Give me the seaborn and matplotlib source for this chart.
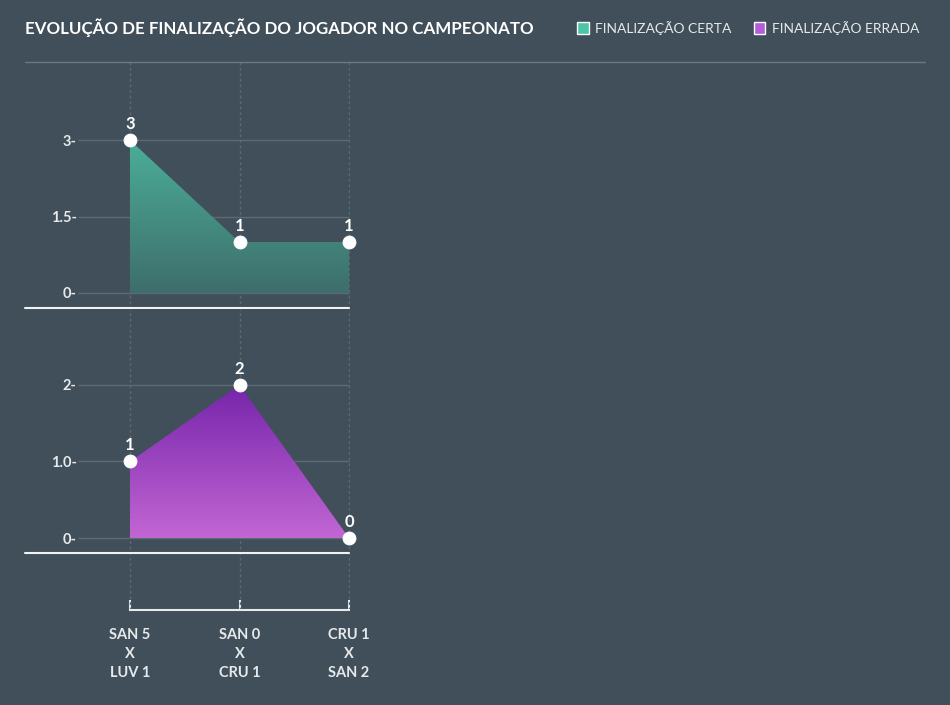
import numpy as np
import pandas as pd
import matplotlib.pyplot as plt
from matplotlib.lines import Line2D
from matplotlib.patches import Patch
from matplotlib.colors import LinearSegmentedColormap
import seaborn as sns

# ~ data
jogos = ["SAN 5\nX\nLUV 1", "SAN 0\nX\nCRU 1", "CRU 1\nX\nSAN 2"]
certa = [3, 1, 1]
errada = [1, 2, 0]
ticks_certa = [0, 1.5, 3]
ticks_errada = [0, 1, 2]
labels_certa = ["0-", "1.5-", "3-"]
labels_errada = ["0-", "1.0-", "2-"]

bg = "#404f59"
grid_col = "#5b6a73"
txt_col = "#e6eaec"

sns.set_style("dark", {"axes.facecolor": bg, "figure.facecolor": bg})
plt.rcParams['font.family'] = ['Lato', 'DejaVu Sans']

W, H = 950, 705
fig = plt.figure(figsize=(9.5, 7.05), dpi=100)

def box(l, t, r, b):
    return [l / W, 1 - b / H, (r - l) / W, (b - t) / H]

df1 = pd.DataFrame({"x": range(3), "y": certa})
df2 = pd.DataFrame({"x": range(3), "y": errada})

ax1 = fig.add_axes(box(78, 62, 350, 309))
ax2 = fig.add_axes(box(78, 309, 350, 610))

xl = (-0.475, 2.009)

def painel(ax, df, ticks, tlabels, ylim, c_top, c_bot, base_y):
    ax.set_xlim(*xl)
    ax.set_ylim(*ylim)
    for s in ax.spines.values():
        s.set_visible(False)
    # grid
    ax.hlines(ticks, -0.475, 2, color=grid_col, lw=1, zorder=1)
    for i in range(3):
        ax.axvline(i, color=grid_col, lw=1, ls=(0, (2, 2)), zorder=1)
    # gradient area
    poly = ax.fill_between(df["x"], 0, df["y"], facecolor="none", lw=0)
    top = max(df["y"])
    grad = np.linspace(0, 1, 256).reshape(-1, 1)
    cmap = LinearSegmentedColormap.from_list("g", [c_top, c_bot])
    im = ax.imshow(grad, cmap=cmap, aspect="auto", extent=[0, 2, 0, top],
                   origin="upper", zorder=2)
    im.set_clip_path(poly.get_paths()[0], transform=ax.transData)
    sns.scatterplot(data=df, x="x", y="y", color="white", s=85,
                    edgecolor="white", ax=ax, zorder=4, clip_on=False)
    for x, y in zip(df["x"], df["y"]):
        ax.annotate(str(y), (x, y), xytext=(0, 6), textcoords="offset points",
                    ha="center", va="bottom", color="white", fontsize=12,
                    fontweight="bold")
    ax.set_yticks(ticks)
    ax.set_yticklabels(tlabels, color=txt_col, fontsize=10.5, fontweight="bold")
    ax.tick_params(axis="y", length=0, pad=1)
    ax.axhline(base_y, xmin=-53 / 272, xmax=0.995, color="#f2f2f2", lw=1.5,
               clip_on=False, zorder=3)
    ax.set_xlabel("")
    ax.set_ylabel("")

painel(ax1, df1, ticks_certa, labels_certa, (-0.314, 4.53),
       "#4bae97", "#3e6e6c", -0.29)
painel(ax2, df2, ticks_errada, labels_errada, (-0.941, 2.993),
       "#7524ab", "#c266d3", -0.196)

ax1.set_xticks([])
ax2.set_xticks(range(3))
ax2.set_xticklabels(jogos, color=txt_col, fontsize=10.5, fontweight="bold",
                    linespacing=1.45)
ax2.spines["bottom"].set_visible(True)
ax2.spines["bottom"].set_color("#e6eaec")
ax2.spines["bottom"].set_linewidth(1.5)
ax2.spines["bottom"].set_bounds(0, 2)
ax2.tick_params(axis="x", bottom=True, direction="in", length=7, width=1.5,
                color="#e6eaec", pad=13)

# ~ title, legend, separator
fig.text(25 / W, 1 - 28 / H, "EVOLUÇÃO DE FINALIZAÇÃO DO JOGADOR NO CAMPEONATO",
         color="white", fontsize=12.2, fontweight="bold", va="center", ha="left")
fig.add_artist(Line2D([25 / W, 925 / W], [1 - 62 / H, 1 - 62 / H],
                      color="#6b7880", lw=1))
handles = [Patch(facecolor="#4cc4a8", label="FINALIZAÇÃO CERTA"),
           Patch(facecolor="#b35dd9", label="FINALIZAÇÃO ERRADA")]
leg = fig.legend(handles=handles, ncol=2, frameon=False,
                 loc="center right", bbox_to_anchor=(932 / W, 1 - 28 / H),
                 handlelength=0.8, handleheight=1.0, handletextpad=0.5,
                 columnspacing=1.6, fontsize=10)
for t in leg.get_texts():
    t.set_color(txt_col)

fig.savefig("out.png", dpi=100, facecolor=bg)
